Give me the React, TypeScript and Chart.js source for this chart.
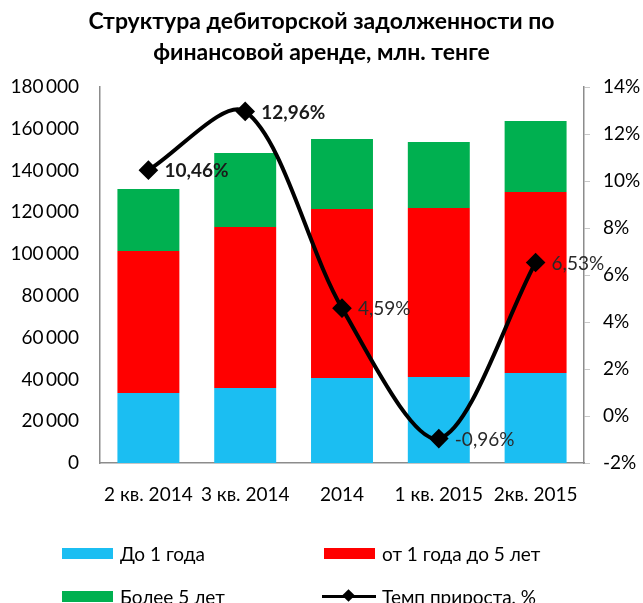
import React, { useEffect, useRef } from "react";
import { Chart, registerables } from "chart.js";

Chart.register(...registerables);

const categories = ["2 кв. 2014", "3 кв. 2014", "2014", "1 кв. 2015", "2кв. 2015"];
const upTo1Year = [33500, 35900, 40700, 41200, 43100];
const from1To5Years = [68000, 77100, 80900, 80900, 86600];
const over5Years = [29700, 35400, 33500, 31600, 34000];
const growthRate = [10.46, 12.96, 4.59, -0.96, 6.53];
const growthLabels = ["10,46%", "12,96%", "4,59%", "-0,96%", "6,53%"];

const title = ["Структура дебиторской задолженности по", "финансовой аренде, млн. тенге"];
const legendNames = ["До 1 года", "от 1 года до 5 лет", "Более 5 лет", "Темп прироста, %"];

const BLUE = "#1BBEF2";
const RED = "#FF0000";
const GREEN = "#00B050";
const FONT = "Lato, 'Open Sans', sans-serif";

const labelPlugin = {
  id: "pointLabels",
  afterDatasetsDraw(chart: any) {
    const meta = chart.getDatasetMeta(3);
    const ctx = chart.ctx;
    ctx.save();
    ctx.textBaseline = "middle";
    ctx.textAlign = "left";
    meta.data.forEach((pt: any, i: number) => {
      const bold = i < 2;
      ctx.font = `${bold ? "bold " : ""}19px ${FONT}`;
      ctx.fillStyle = bold ? "#1a1a1a" : "#2a2a2a";
      ctx.fillText(growthLabels[i], pt.x + 16, pt.y + 1);
    });
    ctx.restore();
  },
};

export default function App() {
  const ref = useRef<HTMLCanvasElement | null>(null);
  useEffect(() => {
    if (!ref.current) return;
    const chart = new Chart(ref.current, {
      type: "bar",
      data: {
        labels: categories,
        datasets: [
          { type: "bar", label: legendNames[0], data: upTo1Year, backgroundColor: BLUE, yAxisID: "y", order: 1, barPercentage: 0.64, categoryPercentage: 1 },
          { type: "bar", label: legendNames[1], data: from1To5Years, backgroundColor: RED, yAxisID: "y", order: 1, barPercentage: 0.64, categoryPercentage: 1 },
          { type: "bar", label: legendNames[2], data: over5Years, backgroundColor: GREEN, yAxisID: "y", order: 1, barPercentage: 0.64, categoryPercentage: 1 },
          {
            type: "line",
            label: legendNames[3],
            data: growthRate,
            yAxisID: "y1",
            order: 0,
            borderColor: "#000",
            backgroundColor: "#000",
            borderWidth: 4,
            tension: 0.3,
            pointStyle: "rectRot",
            pointRadius: 7,
            pointBackgroundColor: "#000",
            pointBorderColor: "#000",
          } as any,
        ],
      },
      options: {
        animation: false,
        responsive: false,
        layout: { padding: { top: 87, left: 0, right: 0, bottom: 0 } },
        plugins: { legend: { display: false }, tooltip: { enabled: false } },
        scales: {
          x: {
            stacked: true,
            grid: { display: false, drawTicks: false },
            border: { display: true, color: "#8c8c8c", width: 1.5 },
            ticks: { color: "#000", font: { family: FONT, size: 19 }, padding: 20, maxRotation: 0, autoSkip: false },
            afterFit: (s: any) => { s.height = 140; },
          },
          y: {
            stacked: true,
            position: "left",
            min: 0,
            max: 180000,
            grid: { display: false, drawTicks: false },
            border: { display: true, color: "#8c8c8c", width: 1.5 },
            ticks: {
              stepSize: 20000,
              color: "#000",
              padding: 21,
              font: { family: FONT, size: 19 },
              callback: (v: any) => {
                const n = Number(v);
                if (n < 1000) return String(n);
                const th = Math.floor(n / 1000);
                const rest = String(n % 1000).padStart(3, "0");
                return `${th}\u2009${rest}`;
              },
            },
            afterFit: (s: any) => { s.width = 100; },
          },
          y1: {
            position: "right",
            min: -2,
            max: 14,
            grid: { display: true, drawOnChartArea: false, drawTicks: true, tickLength: 6, color: "#c8c8c8" },
            border: { display: true, color: "#8c8c8c", width: 1.5 },
            ticks: {
              stepSize: 2,
              color: "#000",
              padding: 13,
              font: { family: FONT, size: 19 },
              callback: (v: any) => `${v}%`,
            },
            afterFit: (s: any) => { s.width = 59; },
          },
        },
      },
      plugins: [labelPlugin],
    });
    return () => chart.destroy();
  }, []);

  const legendItem = (left: number, top: number, color: string, text: string, isLine = false) => (
    <div style={{ position: "absolute", left, top: top - 13, height: 26, display: "flex", alignItems: "center", font: `19px ${FONT}`, color: "#000", whiteSpace: "nowrap" }}>
      {isLine ? (
        <div style={{ position: "relative", width: 54, height: 12, marginRight: 6 }}>
          <div style={{ position: "absolute", left: 0, right: 0, top: 4.5, height: 3, background: "#000" }} />
          <div style={{ position: "absolute", left: 22, top: 1, width: 9, height: 9, background: "#000", transform: "rotate(45deg)" }} />
        </div>
      ) : (
        <div style={{ width: 51, height: 11, background: color, marginRight: 7 }} />
      )}
      <span>{text}</span>
    </div>
  );

  return (
    <div style={{ position: "fixed", left: 0, top: 0, width: 643, height: 603, background: "#fff", overflow: "hidden" }}>
      <canvas ref={ref} width={643} height={603} style={{ position: "absolute", left: 0, top: 0 }} />
      <div style={{ position: "absolute", left: 0, top: 5, width: 643, textAlign: "center", font: `bold 23px ${FONT}`, lineHeight: "31px", color: "#000" }}>
        <div>{title[0]}</div>
        <div>{title[1]}</div>
      </div>
      {legendItem(62, 553, BLUE, legendNames[0])}
      {legendItem(324, 553, RED, legendNames[1])}
      {legendItem(62, 596, GREEN, legendNames[2])}
      {legendItem(322, 596, "#000", legendNames[3], true)}
    </div>
  );
}
